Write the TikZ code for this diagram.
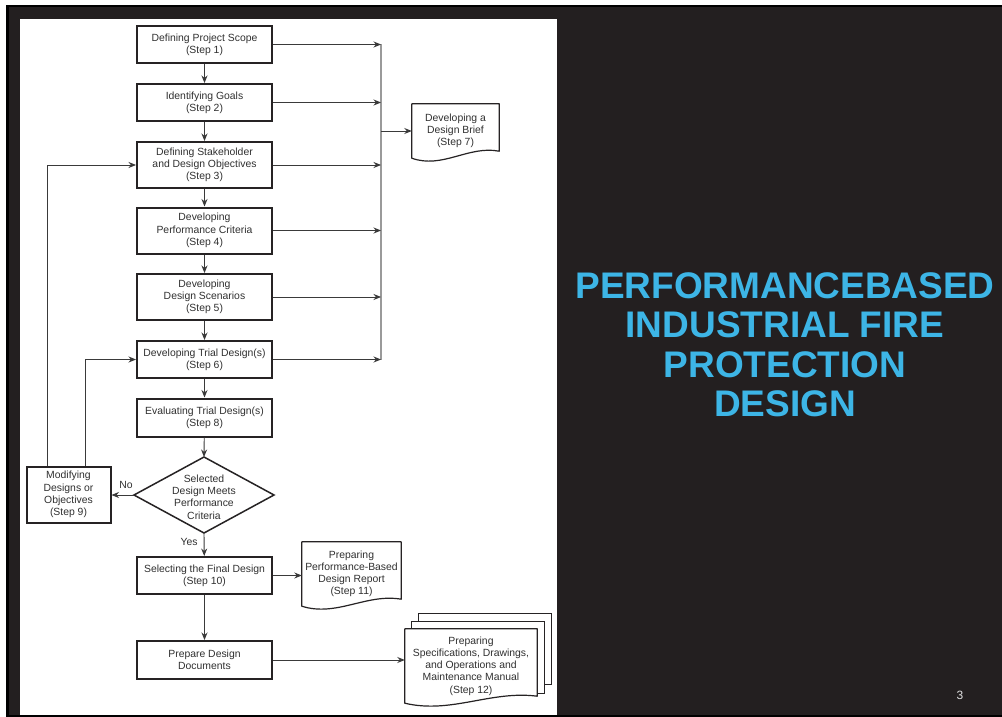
\documentclass[tikz,border=0pt]{standalone}
\usepackage{fontspec}
\setmainfont{Liberation Sans}
\usetikzlibrary{arrows.meta,calc}
\pgfdeclarelayer{slide}
\pgfdeclarelayer{pages}
\pgfsetlayers{slide,pages,main}
\definecolor{slidebg}{HTML}{231F20}
\definecolor{titleblue}{HTML}{3DB5E6}
\definecolor{ink}{HTML}{262324}
\definecolor{textc}{HTML}{303030}
\definecolor{linec}{HTML}{3A3A3A}
\definecolor{collc}{HTML}{9A9A9A}
\newcommand\boxfont{\fontsize{10.4}{12.2}\selectfont}
\newcommand\docshape[2][]{\draw[docl,#1] (#2.north west) -- (#2.north east) -- ($(#2.south east)+(0,-7)$) .. controls ($(#2.south west)!0.65!(#2.south east)+(0,-13)$) and ($(#2.south west)!0.35!(#2.south east)+(0,11)$) .. (#2.south west) -- cycle;}
\begin{document}
\begin{tikzpicture}[x=1pt,y=-1pt,
  box/.style={draw=ink, line width=2pt, fill=white, minimum width=135pt, align=center, font=\boxfont, text=textc, inner sep=1pt},
  doc/.style={align=center, font=\boxfont, text=textc, inner sep=0pt},
  docl/.style={draw=ink, line width=1.2pt, line join=round},
  pagel/.style={draw=ink, line width=0.9pt},
  arr/.style={draw=linec, line width=0.9pt, -{Stealth[length=7.5pt,width=6pt]}},
  coll/.style={draw=collc, line width=1.3pt},
  lbl/.style={font=\boxfont, text=textc, inner sep=0pt}]
\useasboundingbox (0,0) rectangle (1002,717);
\begin{pgfonlayer}{slide}
\fill[white] (0,0) rectangle (1002,717);
\fill[slidebg] (6,5) rectangle (1002,717);
\draw[black, line width=2.5pt] (1010,6.25) -- (7.25,6.25) -- (7.25,716) -- (1010,716);
\fill[white] (20,19) rectangle (557,715);
\end{pgfonlayer}

% main column
\node[box, minimum height=37pt] (s1) at (204.5,44.5) {Defining Project Scope\\(Step 1)};
\node[box, minimum height=37pt] (s2) at (204.5,102.5) {Identifying Goals\\(Step 2)};
\node[box, minimum height=46pt] (s3) at (204.5,165) {Defining Stakeholder\\and Design Objectives\\(Step 3)};
\node[box, minimum height=46pt] (s4) at (204.5,230.5) {Developing\\Performance Criteria\\(Step 4)};
\node[box, minimum height=46pt] (s5) at (204.5,297) {Developing\\Design Scenarios\\(Step 5)};
\node[box, minimum height=37pt] (s6) at (204.5,359.5) {Developing Trial Design(s)\\(Step 6)};
\node[box, minimum height=38pt] (s8) at (204.5,417.5) {Evaluating Trial Design(s)\\(Step 8)};
\node[box, minimum height=37pt] (s10) at (204.5,575.5) {Selecting the Final Design\\(Step 10)};
\node[box, minimum height=38pt] (pdd) at (204.5,660) {Prepare Design\\Documents};
\node[box, minimum width=84pt, minimum height=56pt] (s9) at (68.5,494.5) {Modifying\\Designs or\\Objectives\\(Step 9)};

% decision
\coordinate (dtop) at (204,457);
\coordinate (dbot) at (204,533);
\coordinate (dl) at (134,495);
\coordinate (dr) at (274,495);
\draw[ink, line width=1.5pt, line join=miter] (dtop) -- (dr) -- (dbot) -- (dl) -- cycle;
\node[doc] (dec) at (204,497) {Selected\\Design Meets\\Performance\\Criteria};
\node[lbl] (no) at (126,485) {No};
\node[lbl] (yes) at (189,542) {Yes};

% documents
\node[doc, minimum width=87pt, minimum height=54pt] (s7) at (455.5,131) {Developing a\\Design Brief\\(Step 7)};
\docshape{s7}
\node[doc, minimum width=99pt, minimum height=64pt] (s11) at (351.5,574) {Preparing\\Performance-Based\\Design Report\\(Step 11)};
\docshape{s11}
\node[doc, minimum width=132pt, minimum height=74pt] (s12) at (471,666) {Preparing\\Specifications, Drawings,\\and Operations and\\Maintenance Manual\\(Step 12)};
\begin{pgfonlayer}{pages}
\draw[pagel, fill=white] ($(s12.north west)+(14,-15)$) rectangle ($(s12.south east)+(14,-19)$);
\draw[pagel, fill=white] ($(s12.north west)+(7,-7)$) rectangle ($(s12.south east)+(7,-10)$);
\docshape[fill=white]{s12}
\end{pgfonlayer}

% vertical flow
\draw[arr] (s1) -- (s2);
\draw[arr] (s2) -- (s3);
\draw[arr] (s3) -- (s4);
\draw[arr] (s4) -- (s5);
\draw[arr] (s5) -- (s6);
\draw[arr] (s6) -- (s8);
\draw[arr] (s8) -- (dtop);
\draw[arr] (dbot) -- (s10);
\draw[arr] (s10) -- (pdd);
\draw[arr] (dl) -- (dl -| s9.east);
\draw[arr] (s10.east) -- (s10.east -| s11.west);
\draw[arr] (pdd.east) -- (pdd.east -| s12.west);

% feedback loops
\draw[arr] ([xshift=22pt]s9.north west) |- (s3.west);
\draw[arr] ([xshift=60pt]s9.north west) |- (s6.west);

% collector to design brief
\coordinate (col) at (381,0);
\draw[coll] (s1.east -| col) -- (s6.east -| col);
\foreach \s in {s1,s2,s3,s4,s5,s6}{\draw[arr] (\s.east) -- (\s.east -| col);}
\draw[arr] (s7.west -| col) -- (s7.west);

% title
\node[text=titleblue, font=\bfseries\fontsize{37}{39.5}\selectfont, align=center] (title) at (785,345) {PERFORMANCEBASED\\INDUSTRIAL FIRE\\PROTECTION\\DESIGN};
\node[text=gray!25, font=\fontsize{12}{14}\selectfont] (pg) at (960,695) {3};
\end{tikzpicture}
\end{document}
